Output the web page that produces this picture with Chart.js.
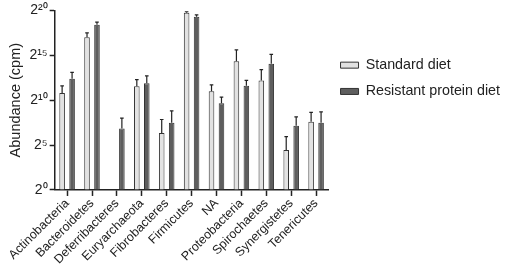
<!DOCTYPE html>
<html>
<head>
<meta charset="utf-8">
<script src="https://cdn.jsdelivr.net/npm/chart.js@4"></script>
<style>
  html, body { margin: 0; padding: 0; background: #fff; }
  #wrap { width: 510px; height: 278px; }
</style>
</head>
<body>
<div id="wrap"><canvas id="myCanvas" width="510" height="278"></canvas></div>
<script>
// abundance as log2(cpm)
const categories = ["Actinobacteria", "Bacteroidetes", "Deferribacteres", "Euryarchaeota", "Fibrobacteres", "Firmicutes", "NA", "Proteobacteria", "Spirochaetes", "Synergistetes", "Tenericutes"];
const standardDiet = [10.8, 17.0, null, 11.55, 6.35, 19.75, 11.0, 14.35, 12.2, 4.45, 7.6];
const resistantDiet = [12.4, 18.4, 6.85, 11.9, 7.5, 19.3, 9.65, 11.6, 14.05, 7.15, 7.5];
const standardErr = [0.8, 0.5, null, 0.75, 1.5, 0.1, 0.7, 1.25, 1.2, 1.5, 1.05];
const resistantErr = [0.7, 0.3, 1.15, 0.8, 1.3, 0.2, 0.7, 0.6, 1.05, 1.0, 1.2];
const tickExps = [0, 5, 10, 15, 20];
const supers = {"0": "\u2070", "1": "\u00b9", "2": "\u00b2", "5": "\u2075"};

function supText(n) {
  return "2" + String(n).split("").map(c => supers[c]).join("");
}

const errorBars = {
  id: "errorBars",
  afterDatasetsDraw(chart) {
    const ctx = chart.ctx, y = chart.scales.y;
    const errs = [standardErr, resistantErr];
    ctx.save();
    ctx.strokeStyle = "#222";
    ctx.lineWidth = 1.2;
    chart.data.datasets.forEach((ds, d) => {
      const meta = chart.getDatasetMeta(d);
      meta.data.forEach((bar, i) => {
        const v = ds.data[i], e = errs[d][i];
        if (v == null || e == null) return;
        const top = y.getPixelForValue(v + e);
        ctx.beginPath();
        ctx.moveTo(bar.x, bar.y);
        ctx.lineTo(bar.x, top);
        ctx.moveTo(bar.x - 1.8, top);
        ctx.lineTo(bar.x + 1.8, top);
        ctx.stroke();
      });
    });
    ctx.restore();
  }
};

Chart.defaults.font.family = "'Liberation Sans', Arial, sans-serif";
Chart.defaults.color = "#222";

new Chart(document.getElementById("myCanvas").getContext("2d"), {
  type: "bar",
  data: {
    labels: categories,
    datasets: [{
      label: "Standard diet",
      data: standardDiet,
      backgroundColor: "#e2e2e2",
      borderColor: "#333",
      borderWidth: 1,
      categoryPercentage: 0.8,
      barPercentage: 0.56
    }, {
      label: "Resistant protein diet",
      data: resistantDiet,
      backgroundColor: "#5e5e5e",
      borderColor: "#333",
      borderWidth: 1,
      categoryPercentage: 0.8,
      barPercentage: 0.56
    }]
  },
  options: {
    responsive: false,
    animation: false,
    layout: { padding: { left: 4, right: 0, top: 6, bottom: 11 } },
    plugins: {
      tooltip: { enabled: false },
      legend: {
        position: "right",
        align: "start",
        maxWidth: 200,
        title: { display: true, text: " ", padding: 14, font: { size: 10 } },
        labels: { boxWidth: 18, boxHeight: 6, padding: 12, font: { size: 14.3 }, color: "#222" }
      }
    },
    scales: {
      x: {
        offset: true,
        grid: { offset: false, drawOnChartArea: false, color: "#222", tickLength: 6, tickWidth: 1.5 },
        border: { color: "#222", width: 1.5 },
        ticks: { maxRotation: 45, minRotation: 45, padding: 0, font: { size: 12.5 }, color: "#222", autoSkip: false }
      },
      y: {
        min: 0,
        max: 20,
        afterBuildTicks: s => { s.ticks = tickExps.map(e => ({ value: e })); },
        grid: { drawOnChartArea: false, color: "#222", tickLength: 5, tickWidth: 1.5 },
        border: { color: "#222", width: 1.5 },
        ticks: { callback: v => supText(v), font: { size: 14 }, color: "#222", padding: 2 },
        title: { display: true, text: "Abundance (cpm)", font: { size: 14.5 }, color: "#222", padding: 3 }
      }
    }
  },
  plugins: [errorBars]
});
</script>
</body>
</html>
